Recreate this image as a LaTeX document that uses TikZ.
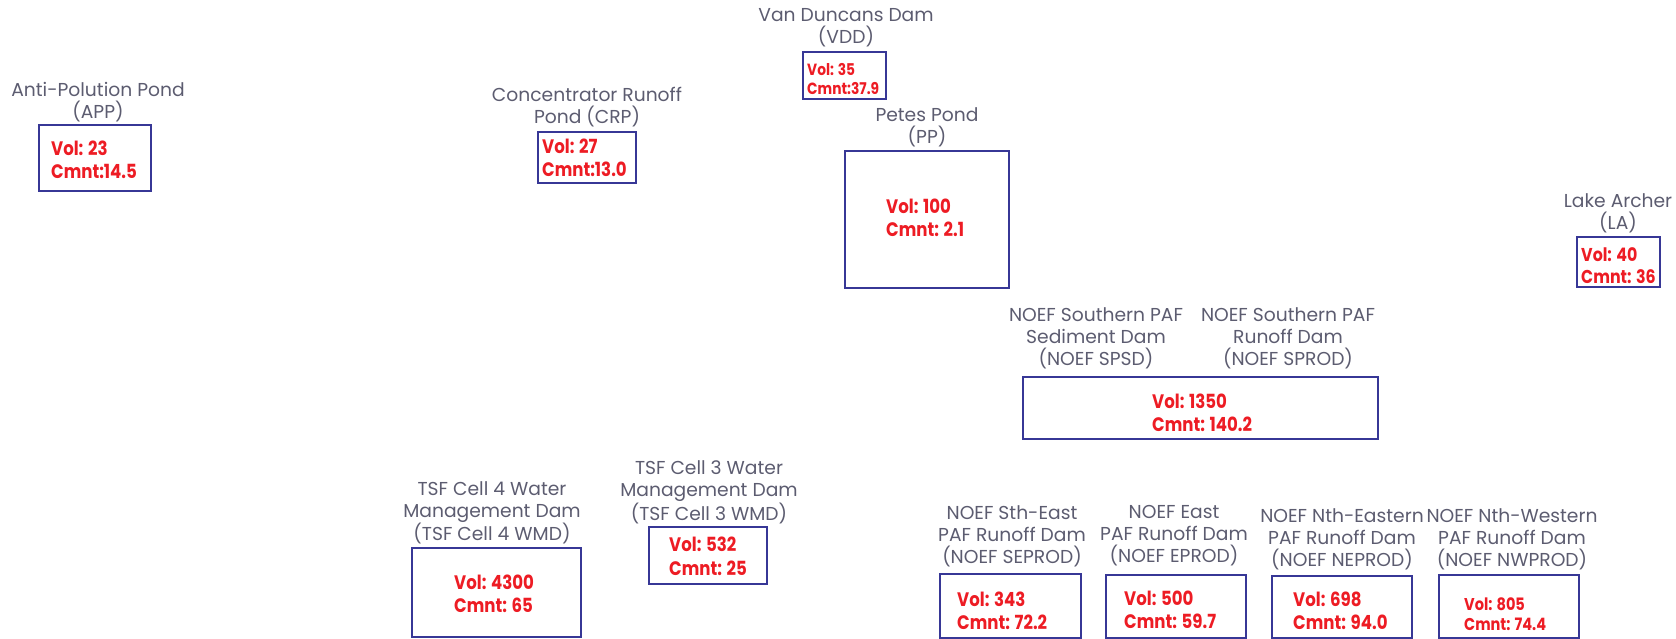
\documentclass[tikz,border=0pt]{standalone}
\usepackage{fontspec}
\setmainfont{Poppins}
\newfontfamily\valfont{Poppins}[FakeStretch=0.85]
\definecolor{labgray}{RGB}{92,92,112}
\definecolor{boxblue}{RGB}{55,55,150}
\definecolor{pondred}{RGB}{237,28,36}
\begin{document}
\begin{tikzpicture}[x=1pt,y=-1pt,
  box/.style={draw=boxblue,line width=1.3pt,inner sep=0pt,outer sep=0pt,anchor=north west},
  lab/.style={text=labgray,align=center,inner sep=0pt,font=\fontsize{18.7}{22}\selectfont},
  val/.style={text=pondred,align=left,inner sep=0pt,anchor=west,font=\valfont\fontsize{19.5}{23.5}\selectfont\bfseries},
  valla/.style={val,font=\valfont\fontsize{18.6}{21.5}\selectfont\bfseries},
  valsm/.style={val,font=\valfont\fontsize{16.2}{18.5}\selectfont\bfseries},
  valmd/.style={val,font=\valfont\fontsize{17.1}{19.7}\selectfont\bfseries}]
\useasboundingbox (0,0) rectangle (1676,639);
% APP
\node[box,minimum width=112pt,minimum height=66pt] (app) at (39,125) {};
\node[val] (appv) at (51,160) {Vol: 23\\Cmnt:14.5};
\node[lab] (appl) at (98,102) {Anti-Polution Pond\\(APP)};
% CRP
\node[box,minimum width=98pt,minimum height=51pt] (crp) at (538,132) {};
\node[val] (crpv) at (542,158) {Vol: 27\\Cmnt:13.0};
\node[lab] (crpl) at (587,106.7) {Concentrator Runoff\\Pond (CRP)};
% VDD
\node[box,minimum width=83pt,minimum height=47pt] (vdd) at (803,52) {};
\node[valsm] (vddv) at (807,79) {Vol: 35\\Cmnt:37.9};
\node[lab] (vddl) at (846,28) {Van Duncans Dam\\(VDD)};
% PP
\node[box,minimum width=164pt,minimum height=137pt] (pp) at (845,151) {};
\node[val] (ppv) at (886,217.7) {Vol: 100\\Cmnt: 2.1};
\node[lab] (ppl) at (927,127.7) {Petes Pond\\(PP)};
% LA
\node[box,minimum width=83pt,minimum height=50pt] (la) at (1577,237) {};
\node[valla] (lav) at (1581,265.5) {Vol: 40\\Cmnt: 36};
\node[lab] (lal) at (1618,213.3) {Lake Archer\\(LA)};
% NOEF Southern
\node[box,minimum width=355pt,minimum height=62pt] (ns) at (1023,377) {};
\node[val] (nsv) at (1152,413) {Vol: 1350\\Cmnt: 140.2};
\node[lab] (nsl1) at (1096,338.7) {NOEF Southern PAF\\Sediment Dam\\(NOEF SPSD)};
\node[lab] (nsl2) at (1288,338.7) {NOEF Southern PAF\\Runoff Dam\\(NOEF SPROD)};
% TSF4
\node[box,minimum width=169pt,minimum height=89pt] (tsf4) at (412,548) {};
\node[val] (tsf4v) at (454,594) {Vol: 4300\\Cmnt: 65};
\node[lab] (tsf4l) at (492,513) {TSF Cell 4 Water\\Management Dam\\(TSF Cell 4 WMD)};
% TSF3
\node[box,minimum width=118pt,minimum height=57pt] (tsf3) at (649,527) {};
\node[val] (tsf3v) at (669,556.5) {Vol: 532\\Cmnt: 25};
\node[lab] (tsf3l) at (709,492.4) {TSF Cell 3 Water\\Management Dam\\(TSF Cell 3 WMD)};
% SEPROD
\node[box,minimum width=141pt,minimum height=64pt] (se) at (940,574) {};
\node[val] (sev) at (957,611) {Vol: 343\\Cmnt: 72.2};
\node[lab] (sel) at (1012,536) {NOEF Sth-East\\PAF Runoff Dam\\(NOEF SEPROD)};
% EPROD
\node[box,minimum width=140pt,minimum height=63pt] (e) at (1106,575) {};
\node[val] (ev) at (1124,610) {Vol: 500\\Cmnt: 59.7};
\node[lab] (el) at (1174,536) {NOEF East\\PAF Runoff Dam\\(NOEF EPROD)};
% NEPROD
\node[box,minimum width=140pt,minimum height=62pt] (ne) at (1272,576) {};
\node[val] (nev) at (1293,611) {Vol: 698\\Cmnt: 94.0};
\node[lab] (nel) at (1342,539.7) {NOEF Nth-Eastern\\PAF Runoff Dam\\(NOEF NEPROD)};
% NWPROD
\node[box,minimum width=140pt,minimum height=63pt] (nw) at (1439,575) {};
\node[valmd] (nwv) at (1464,614) {Vol: 805\\Cmnt: 74.4};
\node[lab] (nwl) at (1512,539.5) {NOEF Nth-Western\\PAF Runoff Dam\\(NOEF NWPROD)};
\end{tikzpicture}
\end{document}
